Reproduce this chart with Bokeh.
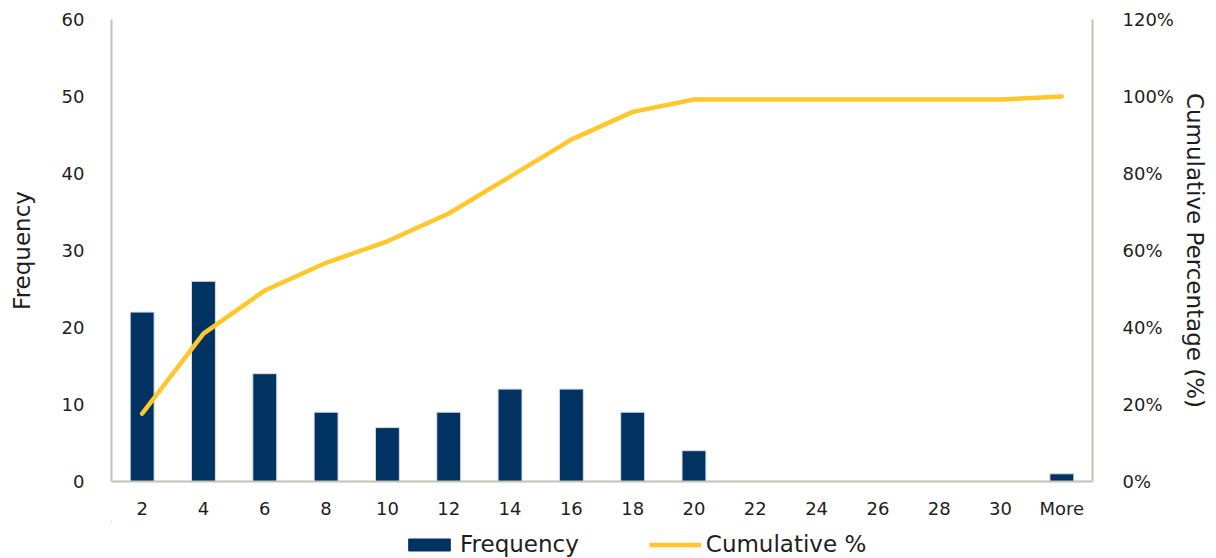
from bokeh.plotting import figure
from bokeh.layouts import column
from bokeh.models import (Range1d, LinearAxis, FixedTicker, PrintfTickFormatter,
                          Legend, LegendItem, ColumnDataSource)
from bokeh.embed import file_html
from bokeh.resources import INLINE

# Histogram bins (upper bin edges) with counts and running cumulative share
bins = ["2", "4", "6", "8", "10", "12", "14", "16", "18", "20",
        "22", "24", "26", "28", "30", "More"]
frequency = [22, 26, 14, 9, 7, 9, 12, 12, 9, 4, 0, 0, 0, 0, 0, 1]
cumulative_pct = [17.6, 38.4, 49.6, 56.8, 62.4, 69.6, 79.2, 88.8, 96.0, 99.2,
                  99.2, 99.2, 99.2, 99.2, 99.2, 100.0]

freq_ticks = [0, 10, 20, 30, 40, 50, 60]
pct_ticks = [0, 20, 40, 60, 80, 100, 120]

FONT = "DejaVu Sans"
TEXT = "#1e1e1e"
AXIS = "#c2c2b8"
NAVY = "#003362"
GOLD = "#ffc72c"

src = ColumnDataSource(dict(bin=bins, freq=frequency, cum=cumulative_pct))

p = figure(x_range=bins, y_range=Range1d(0, 60), width=1216, height=521,
           output_backend="svg", toolbar_location=None,
           min_border_left=111, min_border_right=124,
           min_border_top=19, min_border_bottom=40)
p.extra_y_ranges = {"pct": Range1d(0, 120)}
p.outline_line_color = None
p.xgrid.visible = False
p.ygrid.visible = False
p.background_fill_color = "white"
p.border_fill_color = "white"

bars = p.vbar(x="bin", top="freq", width=0.39, source=src,
              fill_color=NAVY, line_color="#d5dde8", line_width=1)
cum_line = p.line(x="bin", y="cum", source=src, y_range_name="pct",
                  line_color=GOLD, line_width=4.5,
                  line_join="round", line_cap="round")

right = LinearAxis(y_range_name="pct")
p.add_layout(right, "right")


def style_axis(ax):
    ax.axis_line_color = AXIS
    ax.axis_line_width = 2
    ax.major_tick_line_color = None
    ax.minor_tick_line_color = None
    ax.major_label_text_font = FONT
    ax.major_label_text_font_size = "18px"
    ax.major_label_text_color = TEXT
    ax.axis_label_text_font = FONT
    ax.axis_label_text_font_size = "23px"
    ax.axis_label_text_font_style = "normal"
    ax.axis_label_text_color = TEXT


left = p.yaxis[0]
style_axis(left)
left.ticker = FixedTicker(ticks=freq_ticks)
left.axis_label = "Frequency"
left.major_label_standoff = 21
left.axis_label_standoff = 24

style_axis(right)
right.ticker = FixedTicker(ticks=pct_ticks)
right.formatter = PrintfTickFormatter(format="%d%%")
right.axis_label = "Cumulative Percentage (%)"
right.major_label_standoff = 24
right.axis_label_standoff = 5

bottom = p.xaxis[0]
style_axis(bottom)
bottom.major_label_standoff = 10

# Legend strip under the chart; its key renderers hold points far outside the view
key = figure(width=1216, height=37, output_backend="svg", toolbar_location=None,
             x_range=Range1d(0, 1), y_range=Range1d(0, 1), min_border=0)
key.axis.visible = False
key.xgrid.visible = False
key.ygrid.visible = False
key.outline_line_color = None
key.border_fill_color = "white"
key_bar = key.vbar(x=[-50], bottom=[50], top=[51], width=0.1,
                   fill_color=NAVY, line_color=NAVY)
key_line = key.line(x=[-50, -49], y=[50, 50], line_color=GOLD, line_width=4.5)

legend = Legend(items=[LegendItem(label="Frequency", renderers=[key_bar]),
                       LegendItem(label="Cumulative %", renderers=[key_line])],
                orientation="horizontal", location=(292, 1),
                label_text_font=FONT, label_text_font_size="23px",
                label_text_color=TEXT, glyph_width=52, glyph_height=15,
                label_height=24, label_standoff=5, spacing=70,
                padding=0, margin=0, border_line_color=None,
                background_fill_alpha=0)
key.add_layout(legend, "center")

layout = column(p, key, spacing=0)
open("out.html", "w").write(file_html(layout, INLINE))
